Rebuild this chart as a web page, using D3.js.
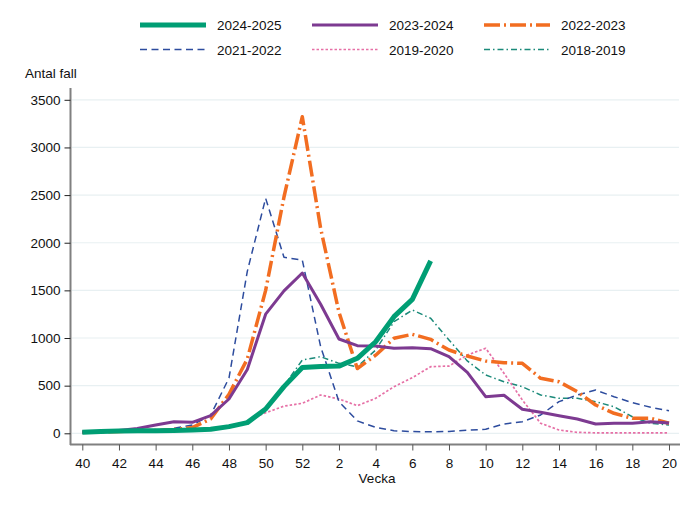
<!DOCTYPE html>
<html>
<head>
<meta charset="utf-8">
<script src="https://cdn.jsdelivr.net/npm/d3@7"></script>
<style>
  body { margin: 0; background: #fff; }
  text { font-family: "Liberation Sans", Arial, sans-serif; fill: #111; }
</style>
</head>
<body>
<div id="chart"></div>
<script>
// weeks of the season, week 40 through week 20
var weeks = ['40','41','42','43','44','45','46','47','48','49','50','51','52',
  '1','2','3','4','5','6','7','8','9','10','11','12','13','14','15','16','17','18','19','20']
var yTicks = [0, 500, 1000, 1500, 2000, 2500, 3000, 3500]

var s2425 = [10,18,25,27,28,30,35,42,70,112,255,490,690,700,705,787,961,1224,1406,1810]
var s2324 = [10,20,30,50,87,122,115,185,360,670,1250,1495,1682,1355,990,920,916,892,899,888,804,640,384,399,252,220,185,150,98,105,105,122,108]
var s2223 = [10,15,20,25,30,40,60,150,410,780,1500,2480,3322,2150,1270,680,820,997,1039,986,874,811,759,741,734,577,541,437,297,210,157,157,105]
var s2122 = [10,15,20,25,35,52,87,190,580,1700,2466,1847,1818,909,332,130,63,27,18,15,20,32,42,98,122,192,332,402,454,384,321,273,237]
var s1920 = [5,10,15,20,25,30,35,40,65,130,215,285,315,402,360,290,367,489,584,699,706,822,892,630,350,105,35,10,5,5,5,5,5]
var s1819 = [10,15,20,20,25,30,35,50,70,120,260,500,769,804,734,699,874,1171,1294,1207,979,760,612,541,489,402,367,367,332,279,174,105,87]

var series = [
  { name: '2018-2019', values: s1819, color: '#1b8a7a', width: 1.5, dash: '6,3,1.5,3' },
  { name: '2019-2020', values: s1920, color: '#e670a6', width: 1.7, dash: '2.5,2' },
  { name: '2021-2022', values: s2122, color: '#2d4c9e', width: 1.5, dash: '7,4.5' },
  { name: '2022-2023', values: s2223, color: '#f26d21', width: 3.5, dash: '16,4,2,4' },
  { name: '2023-2024', values: s2324, color: '#7d3a91', width: 3, dash: null },
  { name: '2024-2025', values: s2425, color: '#009e74', width: 5, dash: null }
]
var legendOrder = ['2024-2025', '2023-2024', '2022-2023', '2021-2022', '2019-2020', '2018-2019']

var W = 698, H = 507
var svg = d3.select('#chart').append('svg').attr('width', W).attr('height', H)

var x = d3.scalePoint().domain(weeks).range([82.3, 669])
var y = d3.scaleLinear().domain([0, 3500]).range([433.3, 99.8])

// grid
svg.append('g').selectAll('line').data(yTicks).enter().append('line')
  .attr('x1', 72).attr('x2', 679)
  .attr('y1', function (d) { return y(d) }).attr('y2', function (d) { return y(d) })
  .attr('stroke', '#e8f0f2').attr('stroke-width', 1.2)

// y axis
var yAxis = svg.append('g').attr('transform', 'translate(70.5,0)')
  .call(d3.axisLeft(y).tickValues(yTicks).tickFormat(d3.format('d')).tickSize(6).tickPadding(4))
yAxis.select('.domain').attr('d', 'M0,88V445').attr('stroke', '#808080').attr('stroke-width', 2)
yAxis.selectAll('.tick line').attr('stroke', '#222')
yAxis.selectAll('text').style('font-size', '13.5px')

// x axis
var xAxis = svg.append('g').attr('transform', 'translate(0,444.5)')
  .call(d3.axisBottom(x).tickValues(weeks.filter(function (d, i) { return i % 2 === 0 })).tickSize(6).tickPadding(8))
xAxis.select('.domain').attr('d', 'M70,0H680').attr('stroke', '#808080').attr('stroke-width', 2)
xAxis.selectAll('.tick line').attr('stroke', '#555')
xAxis.selectAll('text').style('font-size', '13.5px')

svg.append('text').attr('x', 377).attr('y', 483).attr('text-anchor', 'middle')
  .style('font-size', '13.5px').text('Vecka')
svg.append('text').attr('x', 25).attr('y', 78)
  .style('font-size', '13.5px').text('Antal fall')

// lines
var line = d3.line()
  .x(function (d, i) { return x(weeks[i]) })
  .y(function (d) { return y(d) })

svg.append('g').selectAll('path').data(series).enter().append('path')
  .attr('d', function (d) { return line(d.values) })
  .attr('fill', 'none')
  .attr('stroke', function (d) { return d.color })
  .attr('stroke-width', function (d) { return d.width })
  .attr('stroke-dasharray', function (d) { return d.dash })
  .attr('stroke-linejoin', 'round')

// legend
var leg = svg.append('g')
legendOrder.forEach(function (name, i) {
  var s = series.find(function (d) { return d.name === name })
  var lx = 140 + (i % 3) * 172
  var ly = i < 3 ? 25 : 49.5
  leg.append('line').attr('x1', lx).attr('x2', lx + 66).attr('y1', ly).attr('y2', ly)
    .attr('stroke', s.color).attr('stroke-width', s.width)
    .attr('stroke-dasharray', s.dash)
  leg.append('text').attr('x', lx + 77).attr('y', ly + 5)
    .style('font-size', '13.5px').text(name)
})
</script>
</body>
</html>
